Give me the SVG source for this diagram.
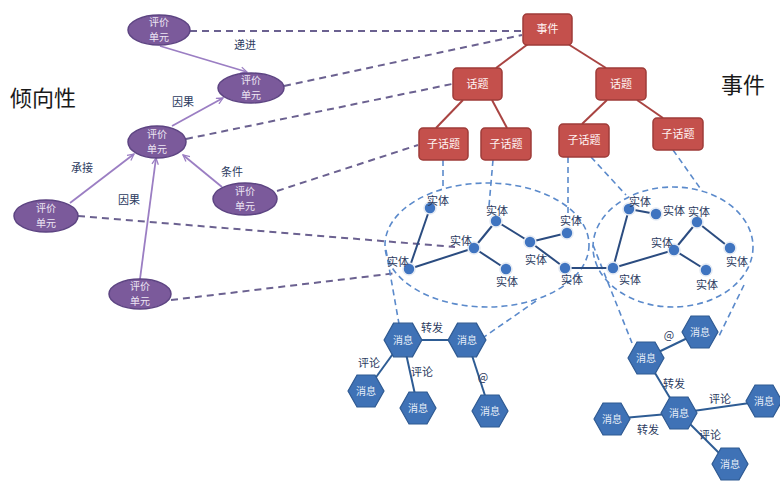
<svg xmlns="http://www.w3.org/2000/svg" width="780" height="481" viewBox="0 0 780 481">
<defs>
<style>
text{font-family:"Noto Sans CJK SC","Noto Sans",sans-serif;text-anchor:middle}
.pe{fill:#7B5A9B;stroke:#5D4482;stroke-width:1.5}
.pt{fill:#EDE6F4;font-size:10px}
.rb{fill:#C4504C;stroke:#9E3B38;stroke-width:1.5}
.rt{fill:#FFF3F2;font-size:11px}
.lbl{fill:#2B3A5E;font-size:11px}
.big{fill:#1a1a1a;font-size:22px}
.arr{stroke:#9B7EC3;stroke-width:1.8;fill:none;marker-end:url(#ah)}
.pd{stroke:#6B6190;stroke-width:2;stroke-dasharray:7 5;fill:none}
.bd{stroke:#5B8ACB;stroke-width:1.6;stroke-dasharray:6 4;fill:none}
.rl{stroke:#A94442;stroke-width:2}
.el{stroke:#2B4C80;stroke-width:2}
.hl{stroke:#2E5C94;stroke-width:2}
.dot{fill:#3F74C0;stroke:#E4EAF3;stroke-width:1.6}
.hx{fill:#3F72B6;stroke:#2F5A92;stroke-width:1.2}
.ht{fill:#E6EEF8;font-size:10px}
</style>
<marker id="ah" viewBox="0 0 10 10" refX="9" refY="5" markerWidth="8" markerHeight="8" orient="auto" markerUnits="userSpaceOnUse">
<path d="M1,1 L9,5 L1,9" fill="none" stroke="#9B7EC3" stroke-width="1.6"/>
</marker>
<polygon id="hex" points="-18,0 -9,-16 9,-16 18,0 9,16 -9,16"/>
</defs>
<rect width="780" height="481" fill="#fff"/>

<text class="big" x="43" y="106">倾向性</text>
<text class="big" x="743" y="93">事件</text>

<g id="connectors">
<line class="pd" x1="190" y1="31" x2="522" y2="31"/>
<line class="pd" x1="284" y1="86" x2="522" y2="35"/>
<line class="pd" x1="186" y1="139" x2="452" y2="84"/>
<line class="pd" x1="277" y1="191" x2="418" y2="145"/>
<line class="pd" x1="78" y1="216" x2="455" y2="247"/>
<line class="pd" x1="171" y1="300" x2="397" y2="273"/>
<line class="arr" x1="160" y1="46" x2="247" y2="72"/>
<line class="arr" x1="172" y1="126" x2="223" y2="98"/>
<line class="arr" x1="70" y1="203" x2="134" y2="154"/>
<line class="arr" x1="140" y1="279" x2="156" y2="158"/>
<line class="arr" x1="222" y1="187" x2="183" y2="155"/>
<line class="rl" x1="528" y1="44" x2="496" y2="68"/>
<line class="rl" x1="568" y1="44" x2="606" y2="68"/>
<line class="rl" x1="463" y1="100" x2="436" y2="128"/>
<line class="rl" x1="492" y1="100" x2="507" y2="128"/>
<line class="rl" x1="607" y1="100" x2="582" y2="124"/>
<line class="rl" x1="637" y1="100" x2="663" y2="118"/>
<ellipse class="bd" cx="487" cy="245" rx="102" ry="62"/>
<ellipse class="bd" cx="673" cy="247" rx="80" ry="60"/>
<line class="bd" x1="443" y1="160" x2="443" y2="188"/>
<line class="bd" x1="493" y1="160" x2="489" y2="206"/>
<line class="bd" x1="568" y1="157" x2="568" y2="216"/>
<line class="bd" x1="591" y1="157" x2="626" y2="195"/>
<line class="bd" x1="673" y1="150" x2="700" y2="188"/>
<line class="bd" x1="386" y1="250" x2="399" y2="324"/>
<line class="bd" x1="536" y1="301" x2="484" y2="337"/>
<line class="bd" x1="593" y1="245" x2="632" y2="343"/>
<line class="bd" x1="744" y1="285" x2="719" y2="336"/>
<line class="el" x1="430" y1="208" x2="409" y2="269"/>
<line class="el" x1="409" y1="269" x2="474" y2="248"/>
<line class="el" x1="474" y1="248" x2="496" y2="221"/>
<line class="el" x1="474" y1="248" x2="506" y2="269"/>
<line class="el" x1="496" y1="221" x2="530" y2="242"/>
<line class="el" x1="530" y1="242" x2="567" y2="233"/>
<line class="el" x1="530" y1="242" x2="565" y2="268"/>
<line class="el" x1="565" y1="268" x2="613" y2="268"/>
<line class="el" x1="613" y1="268" x2="629" y2="209"/>
<line class="el" x1="629" y1="209" x2="656" y2="214"/>
<line class="el" x1="613" y1="268" x2="674" y2="250"/>
<line class="el" x1="674" y1="250" x2="697" y2="222"/>
<line class="el" x1="674" y1="250" x2="706" y2="270"/>
<line class="el" x1="697" y1="222" x2="730" y2="248"/>
<line class="hl" x1="403" y1="340" x2="467" y2="340"/>
<line class="hl" x1="403" y1="340" x2="366" y2="391"/>
<line class="hl" x1="403" y1="340" x2="418" y2="408"/>
<line class="hl" x1="467" y1="340" x2="490" y2="411"/>
<line class="hl" x1="646" y1="358" x2="700" y2="332"/>
<line class="hl" x1="646" y1="358" x2="679" y2="413"/>
<line class="hl" x1="679" y1="413" x2="612" y2="419"/>
<line class="hl" x1="679" y1="413" x2="764" y2="401"/>
<line class="hl" x1="679" y1="413" x2="730" y2="464"/>
</g>

<g id="edge-labels">
<text class="lbl" x="245" y="49">递进</text>
<text class="lbl" x="183" y="106">因果</text>
<text class="lbl" x="82" y="172">承接</text>
<text class="lbl" x="129" y="204">因果</text>
<text class="lbl" x="232" y="176">条件</text>
<text class="lbl" x="432" y="332">转发</text>
<text class="lbl" x="369" y="367">评论</text>
<text class="lbl" x="422" y="376">评论</text>
<text class="lbl" x="483" y="381">@</text>
<text class="lbl" x="669" y="339">@</text>
<text class="lbl" x="674" y="388">转发</text>
<text class="lbl" x="720" y="403">评论</text>
<text class="lbl" x="648" y="434">转发</text>
<text class="lbl" x="710" y="439">评论</text>
</g>

<g id="p1"><ellipse class="pe" cx="159" cy="30" rx="31" ry="15"/><text class="pt" x="159" y="26">评价</text><text class="pt" x="159" y="41">单元</text></g>
<g id="p2"><ellipse class="pe" cx="251" cy="88" rx="33" ry="15"/><text class="pt" x="251" y="84">评价</text><text class="pt" x="251" y="99">单元</text></g>
<g id="p3"><ellipse class="pe" cx="157" cy="142" rx="29" ry="16"/><text class="pt" x="157" y="138">评价</text><text class="pt" x="157" y="153">单元</text></g>
<g id="p4"><ellipse class="pe" cx="46" cy="216" rx="32" ry="16"/><text class="pt" x="46" y="212">评价</text><text class="pt" x="46" y="227">单元</text></g>
<g id="p5"><ellipse class="pe" cx="245" cy="199" rx="32" ry="16"/><text class="pt" x="245" y="195">评价</text><text class="pt" x="245" y="210">单元</text></g>
<g id="p6"><ellipse class="pe" cx="140" cy="294" rx="31" ry="15"/><text class="pt" x="140" y="290">评价</text><text class="pt" x="140" y="305">单元</text></g>

<g id="r-event"><rect class="rb" x="523" y="14" width="49" height="31" rx="4"/><text class="rt" x="547.5" y="33">事件</text></g>
<g id="r-topic1"><rect class="rb" x="453" y="68" width="49" height="32" rx="4"/><text class="rt" x="477.5" y="88">话题</text></g>
<g id="r-topic2"><rect class="rb" x="596" y="68" width="50" height="32" rx="4"/><text class="rt" x="621" y="88">话题</text></g>
<g id="r-sub1"><rect class="rb" x="419" y="128" width="49" height="32" rx="4"/><text class="rt" x="443.5" y="148">子话题</text></g>
<g id="r-sub2"><rect class="rb" x="481" y="128" width="50" height="32" rx="4"/><text class="rt" x="506" y="148">子话题</text></g>
<g id="r-sub3"><rect class="rb" x="559" y="124" width="50" height="33" rx="4"/><text class="rt" x="584" y="144">子话题</text></g>
<g id="r-sub4"><rect class="rb" x="653" y="118" width="50" height="32" rx="4"/><text class="rt" x="678" y="138">子话题</text></g>

<g id="e1"><circle class="dot" cx="430" cy="208" r="6"/><text class="lbl" x="438" y="205">实体</text></g>
<g id="e2"><circle class="dot" cx="409" cy="269" r="6"/><text class="lbl" x="398" y="266">实体</text></g>
<g id="e3"><circle class="dot" cx="474" cy="248" r="6"/><text class="lbl" x="461" y="245">实体</text></g>
<g id="e4"><circle class="dot" cx="496" cy="221" r="6"/><text class="lbl" x="497" y="215">实体</text></g>
<g id="e5"><circle class="dot" cx="506" cy="269" r="6"/><text class="lbl" x="507" y="286">实体</text></g>
<g id="e6"><circle class="dot" cx="530" cy="242" r="6"/><text class="lbl" x="536" y="264">实体</text></g>
<g id="e7"><circle class="dot" cx="567" cy="233" r="6"/><text class="lbl" x="571" y="225">实体</text></g>
<g id="e8"><circle class="dot" cx="565" cy="268" r="6"/><text class="lbl" x="572" y="284">实体</text></g>
<g id="f1"><circle class="dot" cx="613" cy="268" r="6"/><text class="lbl" x="630" y="284">实体</text></g>
<g id="f2"><circle class="dot" cx="629" cy="209" r="6"/><text class="lbl" x="640" y="206">实体</text></g>
<g id="f3"><circle class="dot" cx="656" cy="214" r="6"/><text class="lbl" x="674" y="215">实体</text></g>
<g id="f4"><circle class="dot" cx="674" cy="250" r="6"/><text class="lbl" x="662" y="247">实体</text></g>
<g id="f5"><circle class="dot" cx="697" cy="222" r="6"/><text class="lbl" x="699" y="216">实体</text></g>
<g id="f6"><circle class="dot" cx="730" cy="248" r="6"/><text class="lbl" x="737" y="266">实体</text></g>
<g id="f7"><circle class="dot" cx="706" cy="270" r="6"/><text class="lbl" x="707" y="289">实体</text></g>

<g id="m1"><use href="#hex" class="hx" transform="translate(403,340) scale(1.05)"/><text class="ht" x="403" y="344">消息</text></g>
<g id="m2"><use href="#hex" class="hx" transform="translate(467,340) scale(1.05)"/><text class="ht" x="467" y="344">消息</text></g>
<g id="m3"><use href="#hex" class="hx" transform="translate(366,391)"/><text class="ht" x="366" y="395">消息</text></g>
<g id="m4"><use href="#hex" class="hx" transform="translate(418,408)"/><text class="ht" x="418" y="412">消息</text></g>
<g id="m5"><use href="#hex" class="hx" transform="translate(490,411)"/><text class="ht" x="490" y="415">消息</text></g>
<g id="n1"><use href="#hex" class="hx" transform="translate(646,358)"/><text class="ht" x="646" y="362">消息</text></g>
<g id="n2"><use href="#hex" class="hx" transform="translate(700,332)"/><text class="ht" x="700" y="336">消息</text></g>
<g id="n3"><use href="#hex" class="hx" transform="translate(679,413)"/><text class="ht" x="679" y="417">消息</text></g>
<g id="n4"><use href="#hex" class="hx" transform="translate(612,419)"/><text class="ht" x="612" y="423">消息</text></g>
<g id="n5"><use href="#hex" class="hx" transform="translate(764,401)"/><text class="ht" x="764" y="405">消息</text></g>
<g id="n6"><use href="#hex" class="hx" transform="translate(730,464)"/><text class="ht" x="730" y="468">消息</text></g>
</svg>
